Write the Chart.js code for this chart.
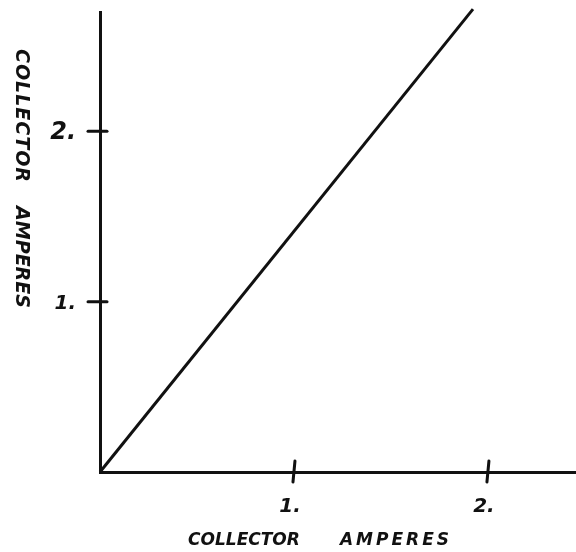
<!DOCTYPE html>
<html>
<head>
<meta charset="utf-8">
<script src="https://cdn.jsdelivr.net/npm/chart.js@4.4.1/dist/chart.umd.min.js"></script>
<style>
  html, body { margin: 0; padding: 0; background: #fff; }
  #wrap { width: 576px; height: 552px; }
</style>
</head>
<body>
<div id="wrap"><canvas id="chart"></canvas></div>
<script>
// Collector current vs collector current: straight line through the origin.
const lineX = [0, 1.923];
const lineY = [0, 2.717];

const xTicks = [1, 2];
const yTicks = [1, 2];
const xTickLabels = ['1.', '2.'];
const yTickLabels = ['1.', '2.'];

const xTitleWords = ['COLLECTOR', 'AMPERES'];
const yTitleWords = ['COLLECTOR', 'AMPERES'];

const INK = '#111';
const font = (size, weight = 'bold') => `italic ${weight} ${size}px "DejaVu Sans", sans-serif`;

// crossing tick marks, hand-lettered tick labels and axis titles
const handAxes = {
  id: 'handAxes',
  afterDraw(chart) {
    const { ctx, chartArea: a, scales: { x, y } } = chart;
    ctx.save();
    ctx.strokeStyle = INK;
    ctx.fillStyle = INK;
    ctx.lineWidth = 3;
    ctx.lineCap = 'round';

    yTicks.forEach((v, i) => {
      const py = y.getPixelForValue(v);
      ctx.beginPath();
      ctx.moveTo(a.left - 12, py);
      ctx.lineTo(a.left + 7, py);
      ctx.stroke();
      ctx.font = font(i === 1 ? 24 : 20);
      ctx.textAlign = 'right';
      ctx.textBaseline = 'middle';
      ctx.fillText(yTickLabels[i], a.left - 24, py + 2);
    });

    xTicks.forEach((v, i) => {
      const px = x.getPixelForValue(v);
      ctx.beginPath();
      ctx.moveTo(px + 1, a.bottom - 11);
      ctx.lineTo(px - 1, a.bottom + 10);
      ctx.stroke();
      ctx.font = font(20);
      ctx.textAlign = 'center';
      ctx.textBaseline = 'middle';
      ctx.fillText(xTickLabels[i], px - 4, a.bottom + 35);
    });

    // bottom title
    ctx.font = font(17);
    ctx.textAlign = 'center';
    ctx.textBaseline = 'alphabetic';
    ctx.letterSpacing = '0px';
    ctx.fillText(xTitleWords[0], 244, 545);
    ctx.letterSpacing = '3px';
    ctx.fillText(xTitleWords[1], 396, 545);

    // left title, reading downwards
    ctx.translate(21, 0);
    ctx.rotate(Math.PI / 2);
    ctx.font = font(19);
    ctx.textBaseline = 'middle';
    ctx.letterSpacing = '1px';
    ctx.fillText(yTitleWords[0], 116, 0);
    ctx.letterSpacing = '0px';
    ctx.fillText(yTitleWords[1], 257, 0);
    ctx.restore();
  }
};

new Chart(document.getElementById('chart'), {
  type: 'scatter',
  data: {
    datasets: [{
      data: lineX.map((v, i) => ({ x: v, y: lineY[i] })),
      showLine: true,
      borderColor: INK,
      borderWidth: 3,
      pointRadius: 0,
      clip: false,
    }],
  },
  options: {
    responsive: true,
    maintainAspectRatio: false,
    animation: false,
    layout: { padding: { left: 100, right: 0, top: 12, bottom: 80 } },
    plugins: { legend: { display: false }, tooltip: { enabled: false } },
    scales: {
      x: {
        type: 'linear',
        min: 0,
        max: 2.454,
        ticks: { display: false },
        grid: { display: false, drawTicks: false },
        border: { display: true, color: INK, width: 3 },
      },
      y: {
        type: 'linear',
        min: 0,
        max: 2.70,
        ticks: { display: false },
        grid: { display: false, drawTicks: false },
        border: { display: true, color: INK, width: 3 },
      },
    },
  },
  plugins: [handAxes],
});
</script>
</body>
</html>
